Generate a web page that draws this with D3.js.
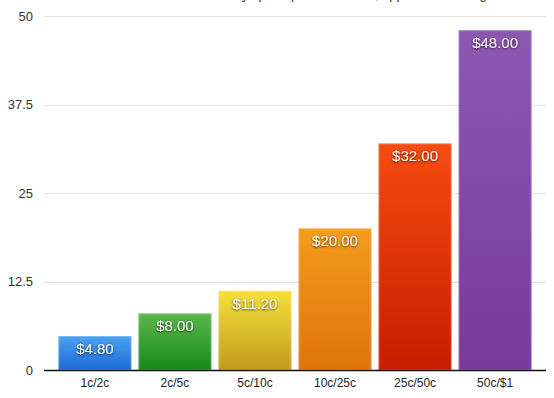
<!DOCTYPE html>
<html>
<head>
<meta charset="utf-8">
<script src="https://cdn.jsdelivr.net/npm/d3@7"></script>
<style>
  html, body { margin: 0; padding: 0; background: #fff; }
  svg { display: block; font-family: "Helvetica Neue", "Liberation Sans", Arial, sans-serif; }
</style>
</head>
<body>
<svg id="chart" width="554" height="398"></svg>
<script>
// stakes and the bankroll needed for each
const stakes = ["1c/2c", "2c/5c", "5c/10c", "10c/25c", "25c/50c", "50c/$1"];
const amounts = [4.8, 8, 11.2, 20, 32, 48];
const yTicks = [0, 12.5, 25, 37.5, 50];
const title = "Weekly spend per stake level, approx. on average";

// top / bottom colour for each bar gradient
const barColors = [
  ["#4ba3f2", "#1a6ad2"],
  ["#5bb84a", "#17891c"],
  ["#f6e03c", "#c29a1c"],
  ["#f49c1c", "#e0740c"],
  ["#f44c10", "#c81c00"],
  ["#8c58b2", "#773a98"]
];

const svg = d3.select("#chart");
const margin = {top: 16, right: 8, bottom: 28, left: 44};
const width = 554 - margin.left - margin.right;
const height = 398 - margin.top - margin.bottom;

const x = d3.scaleBand()
  .domain(stakes)
  .range([0, width])
  .paddingInner(0.0875)
  .paddingOuter(0.18);

const y = d3.scaleLinear()
  .domain([0, 50])
  .range([height, 0]);

const defs = svg.append("defs");
barColors.forEach((c, i) => {
  const grad = defs.append("linearGradient")
    .attr("id", `bar_grad_${i}`)
    .attr("x1", 0).attr("y1", 0).attr("x2", 0).attr("y2", 1);
  grad.append("stop").attr("offset", "0%").attr("stop-color", c[0]);
  grad.append("stop").attr("offset", "100%").attr("stop-color", c[1]);
});
const shadow = defs.append("filter").attr("id", "txt_shadow")
  .attr("x", "-20%").attr("y", "-30%").attr("width", "140%").attr("height", "160%");
shadow.append("feDropShadow")
  .attr("dx", 0).attr("dy", 0.8).attr("stdDeviation", 0.9)
  .attr("flood-color", "#000").attr("flood-opacity", 0.75);

// title, mostly outside the top edge (only descenders show)
svg.append("text")
  .attr("x", 350)
  .attr("y", -1)
  .attr("text-anchor", "middle")
  .attr("font-size", 13)
  .attr("fill", "#333")
  .text(title);

const g = svg.append("g").attr("transform", `translate(${margin.left},${margin.top})`);

// gridlines
g.append("g")
  .selectAll("line")
  .data(yTicks.filter(t => t > 0))
  .join("line")
  .attr("x1", 0)
  .attr("x2", width)
  .attr("y1", d => Math.round(y(d)) + 0.5)
  .attr("y2", d => Math.round(y(d)) + 0.5)
  .attr("stroke", "#e2e2e2")
  .attr("stroke-width", 1);

// y axis labels
const yAxis = g.append("g")
  .call(d3.axisLeft(y).tickValues(yTicks).tickSize(0).tickPadding(11).tickFormat(d => d));
yAxis.select(".domain").remove();
yAxis.selectAll("text")
  .attr("font-size", 13)
  .attr("fill", "#333")
  .attr("font-family", "\"Helvetica Neue\", \"Liberation Sans\", Arial, sans-serif");

// bars
const bars = g.append("g")
  .selectAll("g")
  .data(stakes.map((s, i) => ({stake: s, value: amounts[i], i: i})))
  .join("g");

bars.append("rect")
  .attr("x", d => x(d.stake))
  .attr("y", d => y(d.value))
  .attr("width", x.bandwidth())
  .attr("height", d => height - y(d.value))
  .attr("fill", d => `url(#bar_grad_${d.i})`);

bars.append("rect")
  .attr("x", d => x(d.stake) + 0.5)
  .attr("y", d => y(d.value) + 0.5)
  .attr("width", x.bandwidth() - 1)
  .attr("height", d => height - y(d.value) - 1)
  .attr("fill", "none")
  .attr("stroke", "#fff")
  .attr("stroke-opacity", 0.25);

bars.append("text")
  .attr("x", d => x(d.stake) + x.bandwidth() / 2)
  .attr("y", d => y(d.value) + 18)
  .attr("text-anchor", "middle")
  .attr("font-size", 15)
  .attr("fill", "#f2f2f2")
  .attr("filter", "url(#txt_shadow)")
  .text(d => "$" + d.value.toFixed(2));

// baseline
g.append("line")
  .attr("x1", 0)
  .attr("x2", width)
  .attr("y1", height + 0.5)
  .attr("y2", height + 0.5)
  .attr("stroke", "#111")
  .attr("stroke-width", 1.5);

// x axis labels
const xAxis = g.append("g")
  .attr("transform", `translate(0,${height})`)
  .call(d3.axisBottom(x).tickSize(0).tickPadding(8));
xAxis.select(".domain").remove();
xAxis.selectAll("text")
  .attr("font-size", 12)
  .attr("fill", "#222")
  .attr("font-family", "\"Helvetica Neue\", \"Liberation Sans\", Arial, sans-serif");
</script>
</body>
</html>
